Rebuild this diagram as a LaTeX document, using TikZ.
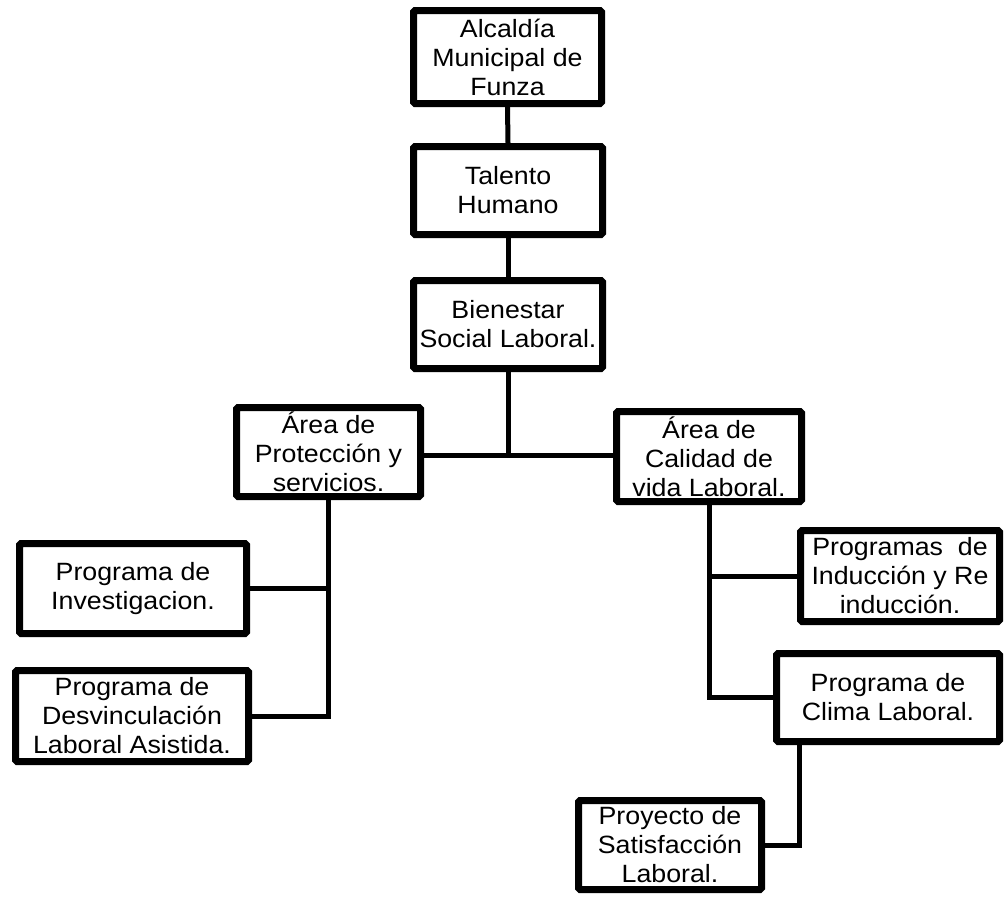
\documentclass[tikz,border=0pt]{standalone}
\usepackage{fontspec}
\setmainfont{Liberation Sans}[FakeStretch=1.07]
\usetikzlibrary{shadows}
\begin{document}
\begin{tikzpicture}[x=1pt,y=-1pt,
  orgbox/.style={draw=black, line width=7pt, fill=white, rounded corners=1.5pt,
    align=center, inner sep=0pt, font=\fontsize{25}{29}\selectfont,
    drop shadow={shadow xshift=2pt, shadow yshift=-2pt, opacity=0.25, fill=black}},
  link/.style={line width=5pt, black}]
\useasboundingbox (0,0) rectangle (1005,898);
\node[orgbox, minimum width=188pt, minimum height=93pt] (b1) at (507.5,57) {Alcaldía\\Municipal de\\Funza};
\node[orgbox, minimum width=189pt, minimum height=88pt] (b2) at (508,190.5) {Talento\\Humano};
\node[orgbox, minimum width=189pt, minimum height=88pt] (b3) at (508,324.5) {Bienestar\\Social Laboral.};
\node[orgbox, minimum width=184pt, minimum height=89pt] (b4) at (328.5,452) {Área de\\Protección y\\servicios.};
\node[orgbox, minimum width=185pt, minimum height=90pt] (b5) at (709,456.5) {Área de\\Calidad de\\vida Laboral.};
\node[orgbox, minimum width=227pt, minimum height=90pt] (b6) at (133,588.5) {Programa de\\Investigacion.};
\node[orgbox, minimum width=233pt, minimum height=91pt] (b7) at (132,716) {Programa de\\Desvinculación\\Laboral Asistida.};
\node[orgbox, minimum width=199pt, minimum height=91pt] (b8) at (900,576) {Programas\ \ de\\Inducción y Re\\inducción.};
\node[orgbox, minimum width=223pt, minimum height=88pt] (b9) at (888,697.5) {Programa de\\Clima Laboral.};
\node[orgbox, minimum width=183pt, minimum height=89pt] (b10) at (670,845) {Proyecto de\\Satisfacción\\Laboral.};
\coordinate (j) at (508,455);
\coordinate (k) at (799,0);
\draw[link] (b1.south) -- (b2.north);
\draw[link] (b2.south) -- (b3.north);
\draw[link] (b3.south) -- (j);
\draw[link] (b4.east |- j) -- (b5.west |- j);
\draw[link] (b4.south) |- (b7.east);
\draw[link] (b6.east) -- (b6.east -| b4.south);
\draw[link] (b5.south) |- (b9.west);
\draw[link] (b8.west) -- (b8.west -| b5.south);
\draw[link] (b9.south -| k) |- (b10.east);
\end{tikzpicture}
\end{document}
